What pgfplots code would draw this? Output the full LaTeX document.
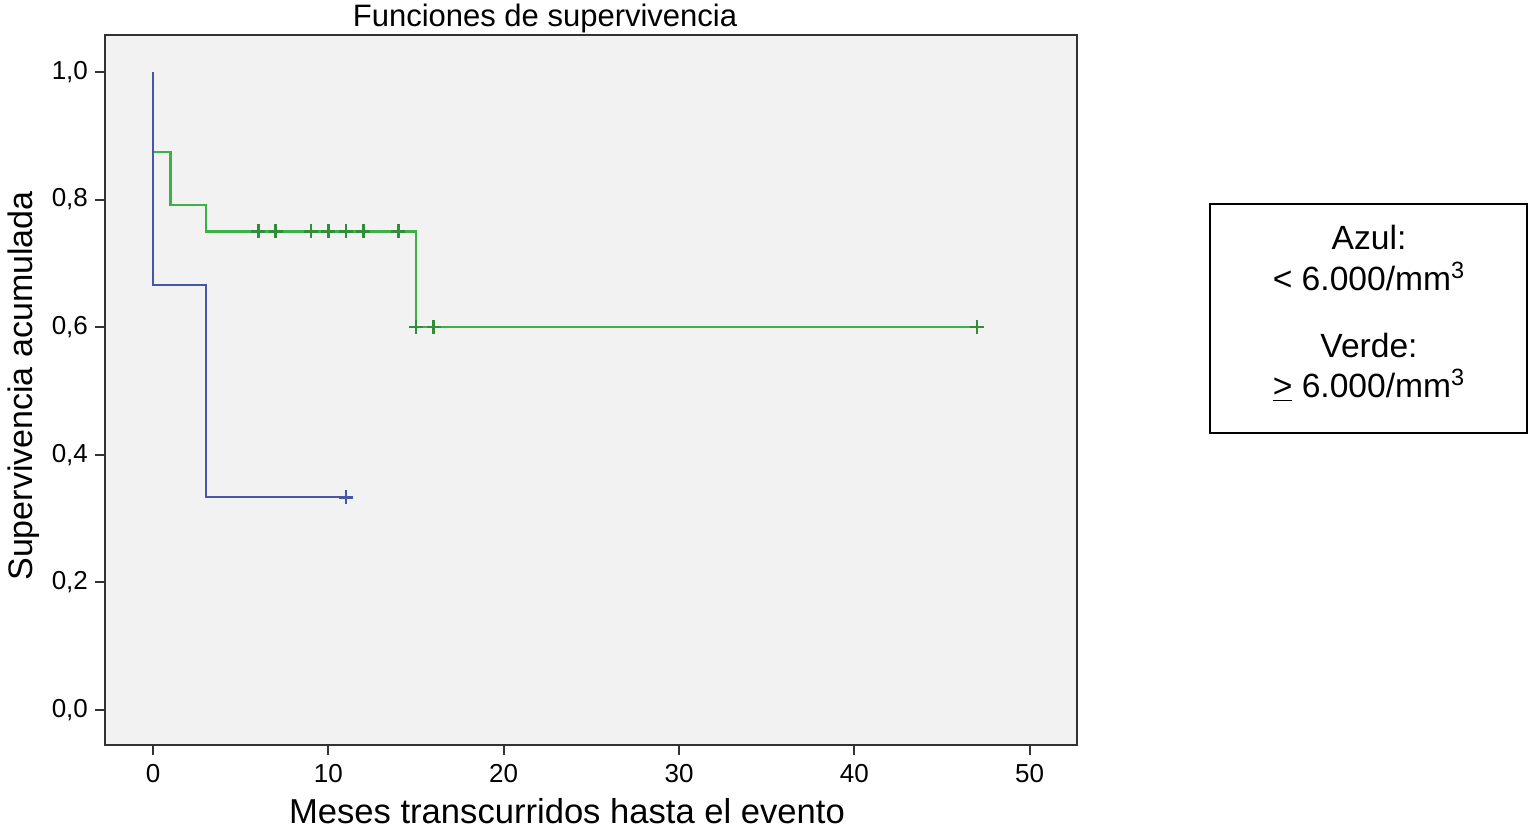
\documentclass[border=0pt]{standalone}
\usepackage{pgfplots}
\pgfplotsset{compat=1.18}
\usepackage{fontspec}
\setmainfont{Liberation Sans}
\definecolor{bgc}{RGB}{242,242,242}
\definecolor{kmgreen}{RGB}{60,178,70}
\definecolor{kmblue}{RGB}{70,88,165}
\definecolor{framec}{RGB}{50,50,50}
\begin{document}
\begin{tikzpicture}[x=0.5pt,y=0.5pt]
\path[use as bounding box] (0,0) rectangle (1531,831);
\begin{axis}[
  at={(52.5pt,43pt)}, anchor=south west,
  width=486pt, height=355pt, scale only axis,
  xmin=-2.74, xmax=52.7, ymin=-0.055, ymax=1.058,
  axis background/.style={fill=bgc},
  axis line style={framec, line width=1pt},
  xtick={0,10,20,30,40,50},
  ytick={0,0.2,0.4,0.6,0.8,1.0},
  xtick pos=bottom, ytick pos=left,
  tick align=outside,
  major tick length=5pt,
  every tick/.style={framec, line width=1pt},
  /pgf/number format/assume math mode=true,
  ticklabel style={font=\fontsize{13}{15}\selectfont},
  yticklabel style={/pgf/number format/use comma, /pgf/number format/fixed, /pgf/number format/fixed zerofill, /pgf/number format/precision=1},
  xticklabel style={yshift=-1pt},
  clip=false,
]
\addplot[const plot, kmgreen, line width=1.1pt, mark=none] coordinates {
  (0,1) (0,0.875) (1,0.7917) (3,0.75) (15,0.6) (47,0.6)
};
\addplot[const plot, kmblue, line width=1.1pt, mark=none] coordinates {
  (0,1) (0,0.6667) (3,0.3333) (11,0.3333)
};
\addplot[only marks, kmgreen!80!black, mark=+, mark size=3.5pt, line width=1.3pt, mark options={solid, line width=1.3pt}] coordinates {
  (6,0.75) (7,0.75) (9,0.75) (10,0.75) (11,0.75) (12,0.75) (14,0.75)
  (15,0.6) (16,0.6) (47,0.6)
};
\addplot[only marks, kmblue, mark=+, mark size=3.5pt, line width=1.3pt, mark options={solid, line width=1.3pt}] coordinates {
  (11,0.3333)
};
\end{axis}
% titles
\node[anchor=base, font=\fontsize{15.5}{18}\selectfont] at (545,831-27) {Funciones de supervivencia};
\node[anchor=base, font=\fontsize{17.3}{20}\selectfont] at (567,831-823) {Meses transcurridos hasta el evento};
\node[anchor=base, rotate=90, font=\fontsize{17}{20}\selectfont] at (32,831-386) {Supervivencia acumulada};
% legend box
\draw[black, line width=1pt] (1210,831-204) rectangle (1527,831-433);
\begin{scope}[font=\fontsize{16.8}{19}\selectfont]
\node[anchor=base] at (1369,831-250) {Azul:};
\node[anchor=base] at (1369,831-291) {< 6.000/mm\textsuperscript{3}};
\node[anchor=base] at (1369,831-358) {Verde:};
\node[anchor=base] at (1369,831-398) {\underline{>} 6.000/mm\textsuperscript{3}};
\end{scope}
\end{tikzpicture}
\end{document}
